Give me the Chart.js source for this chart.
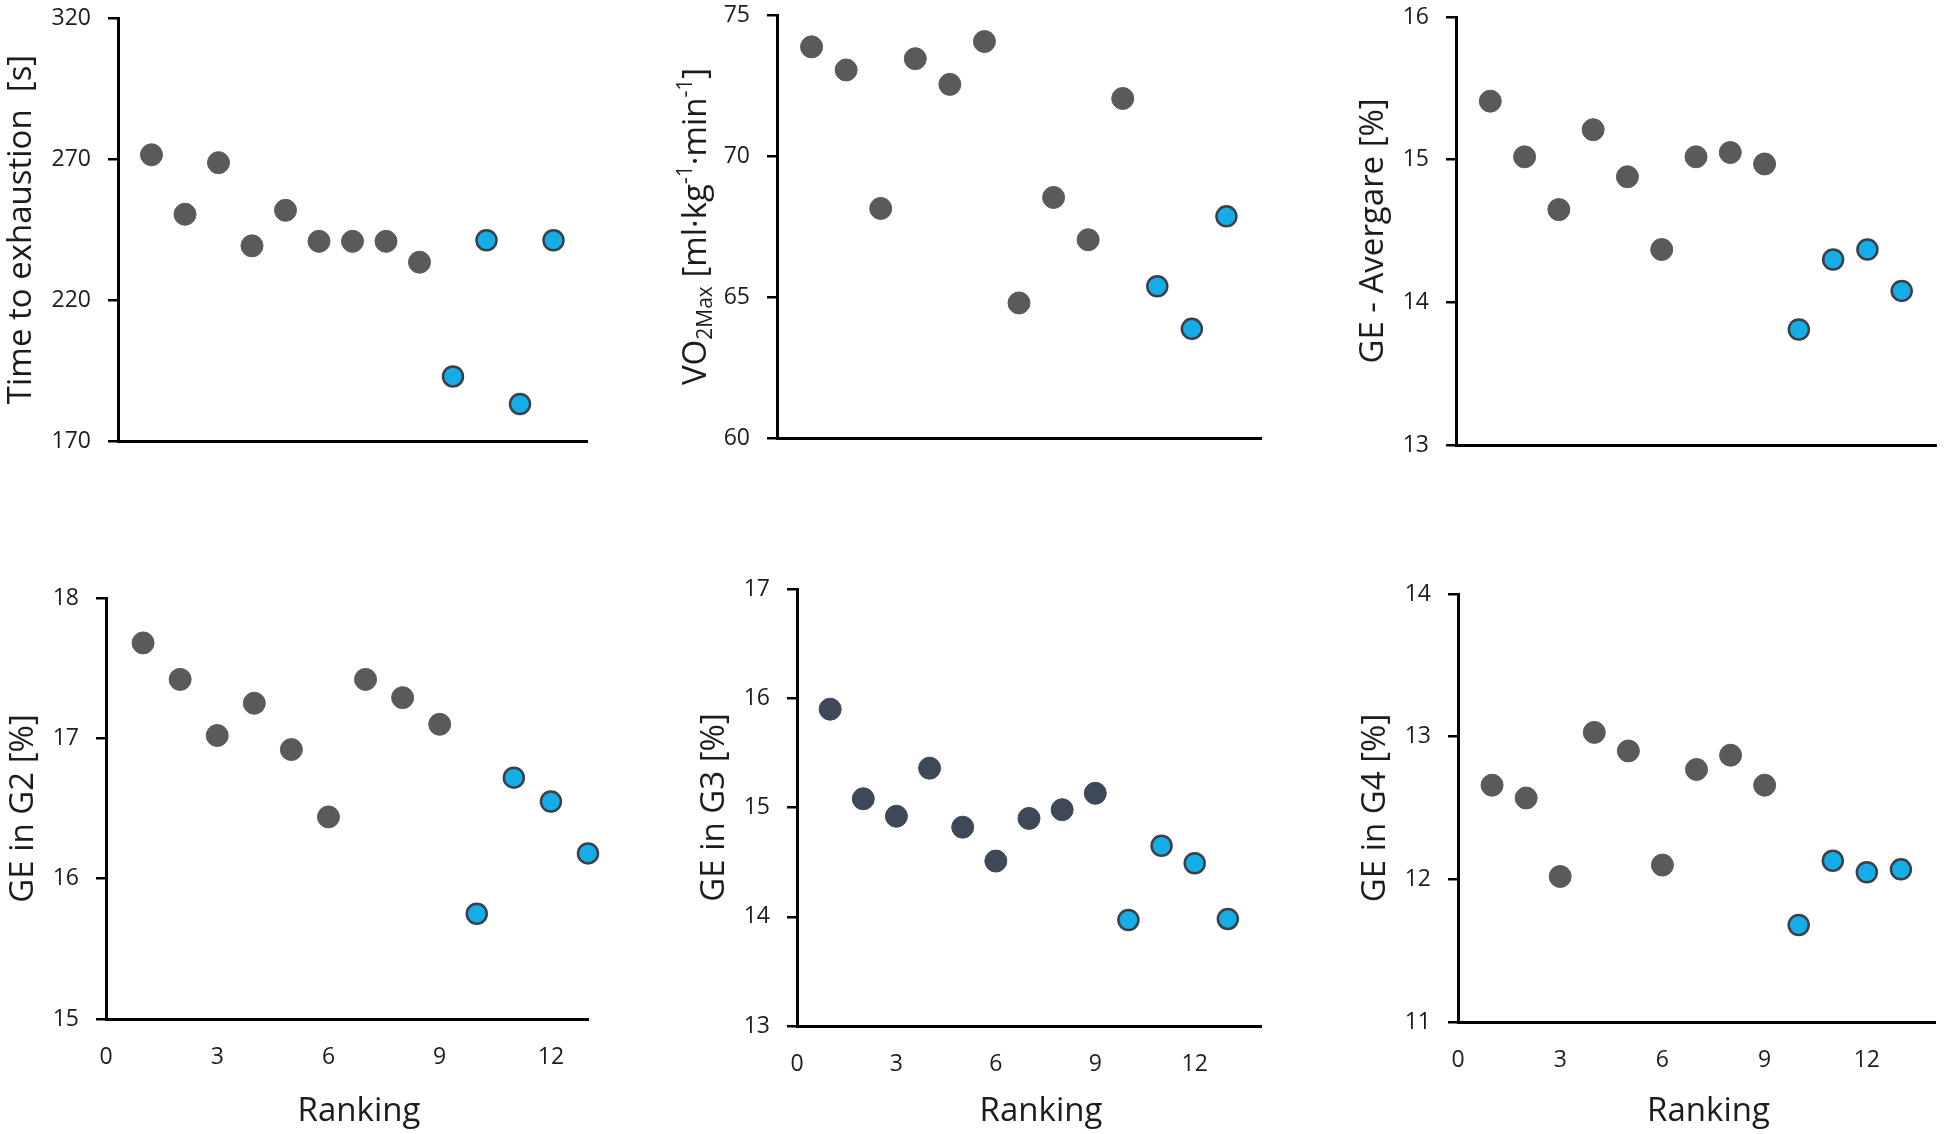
<!DOCTYPE html>
<html>
<head>
<meta charset="utf-8">
<script src="https://cdn.jsdelivr.net/npm/chart.js@4.4.1/dist/chart.umd.min.js"></script>
<style>
  html, body { margin: 0; padding: 0; background: #fff; }
  body { width: 1950px; height: 1134px; position: relative; overflow: hidden; }
  canvas { position: absolute; }
</style>
</head>
<body>
<script>
const ranking = [1, 2, 3, 4, 5, 6, 7, 8, 9, 10, 11, 12, 13];
const timeToExhaustion = [271.5, 250.4, 268.7, 239.2, 251.8, 240.8, 240.8, 240.8, 233.4, 192.9, 241.2, 183.1, 241.2];
const vo2max = [73.87, 73.05, 68.14, 73.45, 72.54, 74.06, 64.79, 68.53, 67.03, 72.04, 65.38, 63.87, 67.86];
const geAverage = [15.41, 15.02, 14.65, 15.21, 14.88, 14.37, 15.02, 15.05, 14.97, 13.81, 14.30, 14.37, 14.08];
const geG2 = [17.68, 17.42, 17.02, 17.25, 16.92, 16.44, 17.42, 17.29, 17.10, 15.75, 16.72, 16.55, 16.18];
const geG3 = [15.90, 15.08, 14.92, 15.36, 14.82, 14.51, 14.90, 14.98, 15.13, 13.97, 14.65, 14.49, 13.98];
const geG4 = [12.66, 12.57, 12.02, 13.03, 12.90, 12.10, 12.77, 12.87, 12.66, 11.68, 12.13, 12.05, 12.07];

// riders drawn grey in each panel (the rest are blue)
const greyCounts = [9, 10, 9, 9, 9, 9];

const tteTicks = [170, 220, 270, 320];
const vo2Ticks = [60, 65, 70, 75];
const geAvgTicks = [13, 14, 15, 16];
const geG2Ticks = [15, 16, 17, 18];
const geG3Ticks = [13, 14, 15, 16, 17];
const geG4Ticks = [11, 12, 13, 14];
const rankTicks = [0, 3, 6, 9, 12];

const FONT = "'Open Sans', 'Noto Sans', sans-serif";
const TEXT = '#1c1c1c';
const GREY = '#5a5a5a';
const BLUE = '#14ade8';
// room around each plot area; y tick padding adds to label half-height, so keep TOP >= 32
const LEFT = 130, TOP = 34, RIGHT = 24;

const panels = [
    { box: [118, 18, 587, 441], values: timeToExhaustion, yTicks: tteTicks, grey: greyCounts[0], xMax: 14, yDx: -96,
      title: [{ t: 'Time to exhaustion  [s]' }] },
    { box: [777, 15, 1261, 438], values: vo2max, yTicks: vo2Ticks, grey: greyCounts[1], xMax: 14, yDx: -80,
      title: [{ t: 'VO' }, { t: '2Max', sub: true }, { t: ' [ml·kg' }, { t: '-1', sup: true }, { t: '·min' }, { t: '-1', sup: true }, { t: ']' }] },
    { box: [1456, 17, 1936, 445], values: geAverage, yTicks: geAvgTicks, grey: greyCounts[2], xMax: 14, yDx: -82,
      title: [{ t: 'GE - Avergare [%]' }] },
    { box: [106, 598, 588, 1019], values: geG2, yTicks: geG2Ticks, grey: greyCounts[3], xMax: 13, yDx: -82, ranking: true,
      title: [{ t: 'GE in G2 [%]' }] },
    { box: [797, 589, 1261, 1026], values: geG3, yTicks: geG3Ticks, grey: greyCounts[4], xMax: 14, yDx: -82, ranking: true,
      greyColor: '#3f4858', title: [{ t: 'GE in G3 [%]' }] },
    { box: [1458, 594, 1935, 1022], values: geG4, yTicks: geG4Ticks, grey: greyCounts[5], xMax: 14, yDx: -82, ranking: true,
      title: [{ t: 'GE in G4 [%]' }] },
];

const titlePlugin = {
    id: 'panelTitles',
    afterDraw(chart, args, opts) {
        const { ctx, chartArea: a } = chart;
        const size = 33;
        const fontFor = (p) => `${p.sub || p.sup ? 21 : size}px ${FONT}`;
        ctx.save();
        ctx.fillStyle = TEXT;
        const widths = opts.y.map((p) => { ctx.font = fontFor(p); return ctx.measureText(p.t).width; });
        const total = widths.reduce((s, w) => s + w, 0);
        ctx.translate(a.left + opts.yDx, (a.top + a.bottom) / 2);
        ctx.rotate(-Math.PI / 2);
        ctx.textBaseline = 'middle';
        ctx.textAlign = 'left';
        let x = -total / 2;
        opts.y.forEach((p, i) => {
            ctx.font = fontFor(p);
            ctx.fillText(p.t, x, p.sub ? 9 : p.sup ? -11 : 0);
            x += widths[i];
        });
        ctx.restore();
        if (opts.x) {
            ctx.save();
            ctx.fillStyle = TEXT;
            ctx.font = `${size}px ${FONT}`;
            ctx.textAlign = 'center';
            ctx.textBaseline = 'alphabetic';
            ctx.fillText(opts.x, (a.left + a.right) / 2 + 12, opts.xBaseline - chart.canvas.offsetTop);
            ctx.restore();
        }
    },
};

const buildPanel = (p) => {
    const [l, t, r, b] = p.box;
    const bottom = p.ranking ? 1134 - b : 34;
    const canvas = document.createElement('canvas');
    canvas.width = (r - l) + LEFT + RIGHT;
    canvas.height = (b - t) + TOP + bottom;
    canvas.style.left = (l - LEFT) + 'px';
    canvas.style.top = (t - TOP) + 'px';
    document.body.appendChild(canvas);

    const points = ranking.map((x, i) => ({ x, y: p.values[i] }));
    const greyColor = p.greyColor || GREY;

    new Chart(canvas, {
        type: 'scatter',
        data: {
            datasets: [
                { data: points.slice(0, p.grey), backgroundColor: greyColor, borderColor: greyColor,
                  borderWidth: 1, pointRadius: 11, clip: false },
                { data: points.slice(p.grey), backgroundColor: BLUE, borderColor: '#3b4048',
                  borderWidth: 2.5, pointRadius: 10, clip: false },
            ],
        },
        options: {
            responsive: false,
            animation: false,
            events: [],
            layout: { padding: { left: 0, top: TOP, right: RIGHT, bottom: 0 } },
            plugins: {
                legend: { display: false },
                tooltip: { enabled: false },
                panelTitles: { y: p.title, yDx: p.yDx, x: p.ranking ? 'Ranking' : null, xBaseline: 1121 },
            },
            scales: {
                x: {
                    type: 'linear',
                    min: 0,
                    max: p.xMax,
                    afterBuildTicks: (axis) => { axis.ticks = rankTicks.map((v) => ({ value: v })); },
                    afterFit: (axis) => { axis.height = bottom; },
                    ticks: { display: !!p.ranking, color: TEXT, padding: 25, font: { family: FONT, size: 23 } },
                    grid: { drawOnChartArea: false, drawTicks: false },
                    border: { display: true, color: '#000', width: 3 },
                },
                y: {
                    type: 'linear',
                    min: p.yTicks[0],
                    max: p.yTicks[p.yTicks.length - 1],
                    afterBuildTicks: (axis) => { axis.ticks = p.yTicks.map((v) => ({ value: v })); },
                    afterFit: (axis) => { axis.width = LEFT; },
                    ticks: { color: TEXT, padding: 17, font: { family: FONT, size: 23 } },
                    grid: { drawOnChartArea: false, drawTicks: true, tickLength: 10, color: '#000', lineWidth: 2.5 },
                    border: { display: true, color: '#000', width: 3 },
                },
            },
        },
        plugins: [titlePlugin],
    });
};

if (typeof Chart !== 'undefined') panels.forEach(buildPanel);
</script>
</body>
</html>
